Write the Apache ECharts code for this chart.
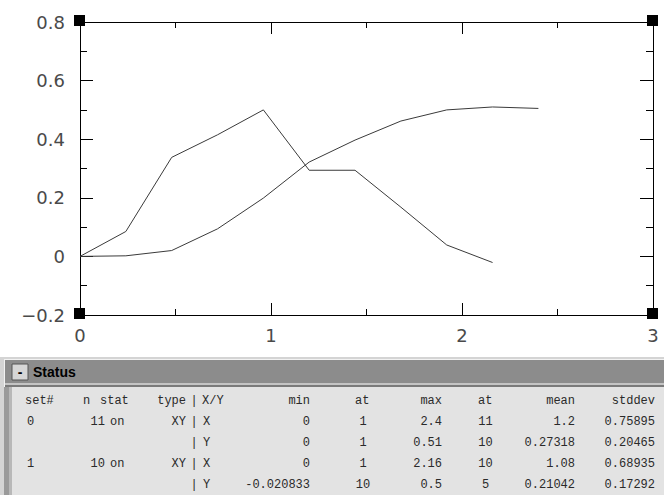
<!DOCTYPE html>
<html>
<head>
<meta charset="utf-8">
<script src="https://cdn.jsdelivr.net/npm/echarts@6/dist/echarts.min.js"></script>
<style>
html,body{margin:0;padding:0;background:#fff;}
#chart{width:664px;height:495px;}
</style>
</head>
<body>
<div id="chart"></div>
<script>
// ---- data ----
var set0X = [0, 0.24, 0.48, 0.72, 0.96, 1.2, 1.44, 1.68, 1.92, 2.16, 2.4];
var set0Y = [0, 0.002, 0.02, 0.094, 0.199, 0.322, 0.397, 0.462, 0.50, 0.51, 0.505];
var set1X = [0, 0.24, 0.48, 0.72, 0.96, 1.2, 1.44, 1.68, 1.92, 2.16];
var set1Y = [0, 0.085, 0.338, 0.415, 0.5, 0.294, 0.294, 0.168, 0.039, -0.020833];

var xTickValues = [0, 1, 2, 3];
var xTickLabels = ['0', '1', '2', '3'];
var yTickValues = [-0.2, 0, 0.2, 0.4, 0.6, 0.8];
var yTickLabels = ['\u22120.2', '0', '0.2', '0.4', '0.6', '0.8'];

var statusTitle = 'Status';
var statusHeader = ['set#', 'n', 'stat', 'type', '|', 'X/Y', 'min', 'at', 'max', 'at', 'mean', 'stddev'];
var statusRows = [
  ['0', '11', 'on', 'XY', '|', 'X', '0', '1', '2.4', '11', '1.2', '0.75895'],
  ['', '', '', '', '|', 'Y', '0', '1', '0.51', '10', '0.27318', '0.20465'],
  ['1', '10', 'on', 'XY', '|', 'X', '0', '1', '2.16', '10', '1.08', '0.68935'],
  ['', '', '', '', '|', 'Y', '-0.020833', '10', '0.5', '5', '0.21042', '0.17292']
];

// ---- layout / style ----
var headerCols = [
  {x: 25, a: 'left'}, {x: 83, a: 'left'}, {x: 100, a: 'left'}, {x: 186, a: 'right'},
  {x: 194, a: 'center'}, {x: 202, a: 'left'}, {x: 310, a: 'right'}, {x: 355, a: 'left'},
  {x: 442, a: 'right'}, {x: 478, a: 'left'}, {x: 575, a: 'right'}, {x: 655, a: 'right'}
];
var rowCols = [
  {x: 27, a: 'left'}, {x: 105, a: 'right'}, {x: 110, a: 'left'}, {x: 186, a: 'right'},
  {x: 194, a: 'center'}, {x: 203, a: 'left'}, {x: 310, a: 'right'}, {x: 363, a: 'center'},
  {x: 442, a: 'right'}, {x: 485.5, a: 'center'}, {x: 575, a: 'right'}, {x: 655, a: 'right'}
];
var headerY = 401;
var rowYs = [422, 443, 464, 485];
var monoFont = '"Liberation Mono", "DejaVu Sans Mono", monospace';
var tickFont = '"DejaVu Sans", "Liberation Sans", sans-serif';

function pair(xs, ys) { return xs.map(function (x, i) { return [x, ys[i]]; }); }
function lookup(vals, labels, v) {
  var best = 0, d = Infinity;
  for (var i = 0; i < vals.length; i++) { var dd = Math.abs(vals[i] - v); if (dd < d) { d = dd; best = i; } }
  return d < 1e-6 ? labels[best] : '';
}

var chart = echarts.init(document.getElementById('chart'), null, {renderer: 'svg'});

var axisLine = {show: true, onZero: false, lineStyle: {color: '#000', width: 1}};
function xAx(pos, showLabel) {
  return {
    type: 'value', position: pos, min: 0, max: 3, interval: 1,
    axisLine: axisLine,
    axisTick: {show: true, inside: true, length: 12, lineStyle: {color: '#000'}},
    minorTick: {show: true, splitNumber: 2, length: 6, lineStyle: {color: '#000'}},
    splitLine: {show: false}, minorSplitLine: {show: false},
    axisLabel: {show: showLabel, margin: 11, color: '#4a4a4a', fontSize: 18, fontFamily: tickFont,
      formatter: function (v) { return lookup(xTickValues, xTickLabels, v); }}
  };
}
function yAx(pos, showLabel) {
  return {
    type: 'value', position: pos, min: -0.2, max: 0.8, interval: 0.2,
    axisLine: axisLine,
    axisTick: {show: true, inside: true, length: 13, lineStyle: {color: '#000'}},
    minorTick: {show: true, splitNumber: 2, length: 7, lineStyle: {color: '#000'}},
    splitLine: {show: false}, minorSplitLine: {show: false},
    axisLabel: {show: showLabel, margin: 15, color: '#4a4a4a', fontSize: 18, fontFamily: tickFont,
      formatter: function (v) { return lookup(yTickValues, yTickLabels, v); }}
  };
}

var option = {
  animation: false,
  backgroundColor: '#fff',
  grid: {left: 80, top: 22, width: 573, height: 293, containLabel: false},
  xAxis: [xAx('bottom', true), xAx('top', false)],
  yAxis: [yAx('left', true), yAx('right', false)],
  series: [
    {type: 'line', xAxisIndex: 0, yAxisIndex: 0, data: pair(set0X, set0Y), showSymbol: false,
      lineStyle: {color: '#3a3a3a', width: 1}, silent: true},
    {type: 'line', xAxisIndex: 0, yAxisIndex: 0, data: pair(set1X, set1Y), showSymbol: false,
      lineStyle: {color: '#3a3a3a', width: 1}, silent: true}
  ]
};
chart.setOption(option);

// ---- decorations: corner handles + status panel ----
var g = [];
[[0, -0.2], [0, 0.8], [3, -0.2], [3, 0.8]].forEach(function (c) {
  var p = chart.convertToPixel({xAxisIndex: 0, yAxisIndex: 0}, c);
  g.push({type: 'rect', shape: {x: Math.round(p[0]) - 6, y: Math.round(p[1]) - 7, width: 11, height: 11},
    style: {fill: '#000'}, z: 100});
});

// panel frame
g.push({type: 'rect', shape: {x: 0, y: 357, width: 664, height: 138}, style: {fill: '#d4d4d4'}, z: 50});
g.push({type: 'rect', shape: {x: 4, y: 359, width: 660, height: 136}, style: {fill: '#f2f2f2'}, z: 51});
g.push({type: 'rect', shape: {x: 5, y: 360, width: 659, height: 23}, style: {fill: '#8c8c8c'}, z: 52});
g.push({type: 'rect', shape: {x: 5, y: 383, width: 659, height: 2}, style: {fill: '#c4c4c4'}, z: 52});
g.push({type: 'rect', shape: {x: 5, y: 385, width: 659, height: 2}, style: {fill: '#7a7a7a'}, z: 52});
g.push({type: 'rect', shape: {x: 4, y: 387, width: 5, height: 108}, style: {fill: '#9a9a9a'}, z: 52});
g.push({type: 'rect', shape: {x: 9, y: 387, width: 3, height: 108}, style: {fill: '#b8b8b8'}, z: 52});
g.push({type: 'rect', shape: {x: 12, y: 387, width: 652, height: 108}, style: {fill: '#e3e3e3'}, z: 52});
// minimize button
g.push({type: 'rect', shape: {x: 12, y: 364, width: 16, height: 16},
  style: {fill: '#d6d6d6', stroke: '#555', lineWidth: 1}, z: 53});
g.push({type: 'text', x: 20, y: 372, style: {text: '-', font: 'bold 14px "Liberation Sans", Arial, sans-serif',
  fill: '#000', align: 'center', verticalAlign: 'middle'}, z: 54});
g.push({type: 'text', x: 33, y: 372, style: {text: statusTitle, font: 'bold 14px "Liberation Sans", Arial, sans-serif',
  fill: '#000', align: 'left', verticalAlign: 'middle'}, z: 54});

// table text
statusHeader.forEach(function (t, i) {
  g.push({type: 'text', x: headerCols[i].x, y: headerY,
    style: {text: t, font: '12px ' + monoFont, fill: '#2a2a2a', align: headerCols[i].a, verticalAlign: 'middle'}, z: 55});
});
statusRows.forEach(function (row, r) {
  row.forEach(function (t, i) {
    if (!t) return;
    g.push({type: 'text', x: rowCols[i].x, y: rowYs[r],
      style: {text: t, font: '12px ' + monoFont, fill: '#2a2a2a', align: rowCols[i].a, verticalAlign: 'middle'}, z: 55});
  });
});

chart.setOption({graphic: g});
</script>
</body>
</html>
